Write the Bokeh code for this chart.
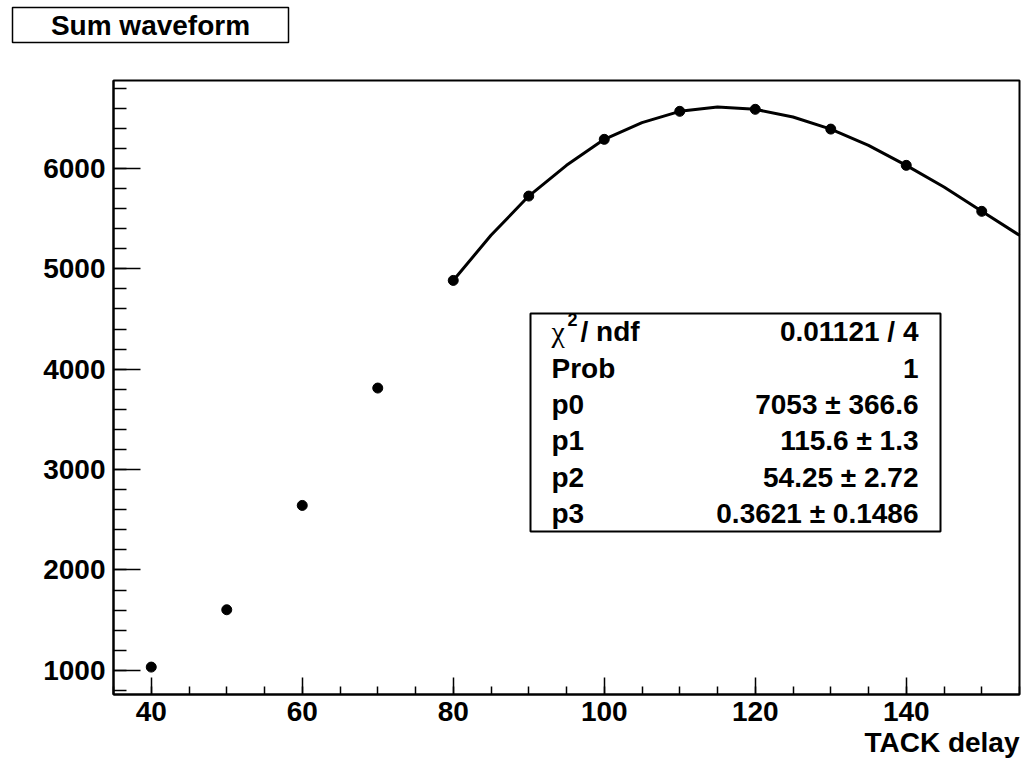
from bokeh.plotting import figure
from bokeh.models import Range1d, SingleIntervalTicker, Label, BoxAnnotation, ColumnDataSource
from bokeh.embed import file_html
from bokeh.resources import INLINE

# ---- data ----
delay = [40, 50, 60, 70, 80, 90, 100, 110, 120, 130, 140, 150]
sum_wave = [1033, 1604, 2643, 3812, 4884, 5724, 6289, 6568, 6588, 6391, 6030, 5572]

fit_x = [80, 85, 90, 95, 100, 105, 110, 115, 120, 125, 130, 135, 140, 145, 150, 155]
fit_y = [4884, 5333, 5724, 6030, 6289, 6455, 6568, 6611, 6588, 6511, 6391, 6229, 6030, 5814, 5572, 5333]

stat_names = ["Prob", "p0", "p1", "p2", "p3"]
stat_values = ["0.01121 / 4", "1", "7053 \u00b1 366.6", "115.6 \u00b1 1.3", "54.25 \u00b1 2.72", "0.3621 \u00b1 0.1486"]

title_text = "Sum waveform"
x_title = "TACK delay"

# axis extents (data)
X0, X1 = 35, 155
Y0, Y1 = 760, 6875

FONT = "Liberation Sans"
W, H = 1021, 761
FL, FR, FT, FB = 113, 1019, 80, 694   # axis box edges (canvas px)
TEXT_DY = -8                          # baseline correction for canvas-unit labels

# the frame covers the whole canvas; the axis box is drawn inside it
sx = (X1 - X0) / (FR - FL)
sy = (Y1 - Y0) / (FB - FT)
x_range = Range1d(X0 - FL * sx, X1 + (W - FR) * sx)
y_range = Range1d(Y0 - (H - FB) * sy, Y1 + FT * sy)

p = figure(width=W, height=H, x_range=x_range, y_range=y_range,
           output_backend="svg", toolbar_location=None,
           min_border_left=0, min_border_right=0, min_border_top=0, min_border_bottom=0)
p.grid.visible = False
p.outline_line_color = None
p.background_fill_color = "white"
p.border_fill_color = "white"

p.xaxis.ticker = SingleIntervalTicker(interval=20, num_minor_ticks=4)
p.yaxis.ticker = SingleIntervalTicker(interval=1000, num_minor_ticks=5)
p.xaxis.fixed_location = Y0
p.yaxis.fixed_location = X0
p.xaxis.bounds = (X0, X1)
p.yaxis.bounds = (Y0, Y1)
for ax in (p.xaxis, p.yaxis):
    ax.axis_line_width = 2
    ax.axis_line_color = "black"
    ax.major_tick_line_width = 1.5
    ax.minor_tick_line_width = 1.5
    ax.major_tick_line_color = "black"
    ax.minor_tick_line_color = "black"
    ax.major_tick_out = 0
    ax.minor_tick_out = 0
    ax.major_label_text_font = FONT
    ax.major_label_text_font_style = "bold"
    ax.major_label_text_font_size = "28px"
    ax.major_label_text_color = "black"
p.xaxis.major_tick_in = 17
p.xaxis.minor_tick_in = 8
p.yaxis.major_tick_in = 27
p.yaxis.minor_tick_in = 13
p.xaxis.major_label_standoff = 7
p.yaxis.major_label_standoff = 8

def box(l, r, t, b, lw, fill="white", level="overlay"):
    p.add_layout(BoxAnnotation(left=l, right=r, top=t, bottom=b,
                               left_units="canvas", right_units="canvas",
                               top_units="canvas", bottom_units="canvas",
                               fill_color=fill if fill else "white",
                               fill_alpha=1 if fill else 0,
                               line_color="black", line_width=lw, line_alpha=1,
                               level=level))

def text(x, y, s, align="left", size="28px", font=FONT, style="bold"):
    p.add_layout(Label(x=x, y=y + TEXT_DY, x_units="canvas", y_units="canvas", text=s,
                       text_align=align, text_baseline="alphabetic", text_font=font,
                       text_font_style=style, text_font_size=size, text_color="black",
                       level="overlay"))

# outline of the axis box
box(FL, FR, FT, FB, 2, fill=None, level="underlay")

src_pts = ColumnDataSource(dict(x=delay, y=sum_wave))
src_fit = ColumnDataSource(dict(x=fit_x, y=fit_y))

p.line("x", "y", source=src_fit, line_color="black", line_width=3, line_join="round")
p.scatter("x", "y", source=src_pts, size=10, color="black")

# title box
box(12, 288, 7, 42, 1.5)
text(150, 33, title_text, align="center")

# x-axis title
text(FR, 750, x_title, align="right")

# stats box
box(530, 940, 313, 531, 2)
row_base = [339, 376, 412, 448, 485, 521]
text(551, row_base[0], "\u03c7", size="30px", font="Liberation Serif", style="normal")
text(567, row_base[0] - 12, "2", size="18px")
text(580, row_base[0], "/ ndf")
for i, name in enumerate(stat_names):
    text(551, row_base[i + 1], name)
for i, val in enumerate(stat_values):
    text(918, row_base[i], val, align="right")

open("out.html", "w").write(file_html(p, INLINE))
